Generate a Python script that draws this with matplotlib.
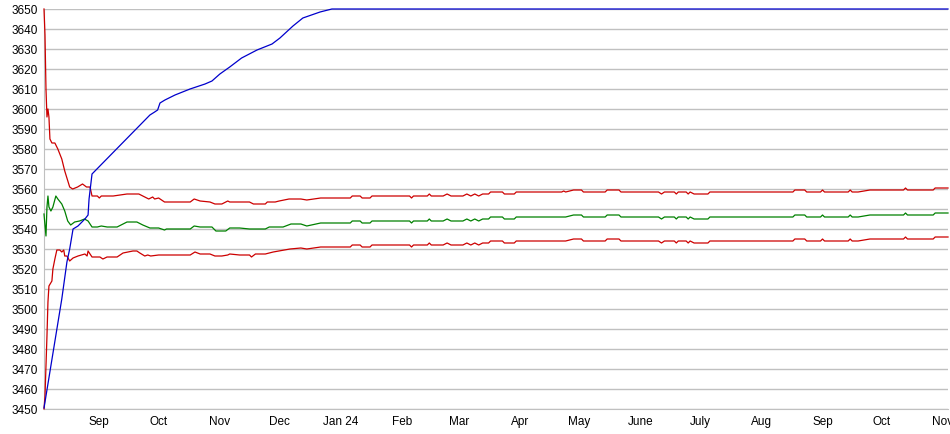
import matplotlib
matplotlib.use("Agg")
import matplotlib.pyplot as plt
import matplotlib.dates as mdates
import numpy as np
from datetime import date

# Day offsets are counted from the first day shown on the chart
start = date(2023, 8, 4)
end_day = 457.5

# Month ticks
tick_dates = ["2023-09-01", "2023-10-01", "2023-11-01", "2023-12-01", "2024-01-01",
              "2024-02-01", "2024-03-01", "2024-04-01", "2024-05-01", "2024-06-01",
              "2024-07-01", "2024-08-01", "2024-09-01", "2024-10-01", "2024-11-01"]
tick_labels = ["Sep", "Oct", "Nov", "Dec", "Jan 24", "Feb", "Mar", "Apr", "May",
               "June", "July", "Aug", "Sep", "Oct", "Nov"]

# Blue line (turns flat at the top)
blue_days = [0, 0.5, 9, 11.6, 13, 14.7, 17.2, 20.7, 22.3, 22.8, 24.3, 53.6, 56, 57.5,
             58.7, 61.2, 66.3, 73.9, 81.5, 85, 89, 94, 100, 107.8, 115.4, 119.4, 126,
             131, 139.7, 145.7, 457.5]
blue_vals = [3450.5, 3453.5, 3505, 3523.5, 3530, 3540, 3541.5, 3545, 3547, 3555, 3567.5,
             3597, 3598.5, 3599.5, 3603, 3604.5, 3607, 3610, 3612.5, 3614, 3617.5, 3621,
             3625.5, 3629.5, 3632.5, 3635.5, 3641.5, 3645.5, 3648.5, 3650, 3650]

# Upper red band
upper_days = [0, 0.5, 1, 1.5, 2, 2.5, 3, 4, 5.5, 7, 9, 10.5, 13, 14.5, 17, 19.5, 21.5,
              23.3, 24.3, 27, 28, 29, 35, 42, 48, 50, 53, 55, 56, 58, 61, 74, 76, 79, 84,
              86.5, 90, 93, 94, 104, 106, 112, 113, 117, 119, 124, 130, 133, 140, 155,
              156, 160, 161, 165, 166, 185, 186, 187, 194, 195, 196, 202, 204, 206, 212,
              214, 216, 218, 220, 222, 225, 226, 232, 233, 238, 239, 262, 263, 264, 268,
              272, 273, 284, 285, 291, 292, 311, 312.5, 314, 319, 320, 321, 325, 326,
              327, 329, 336, 337, 379, 380, 385, 386, 393, 394, 395, 407, 408, 409, 412,
              418, 435, 436, 437, 450, 451, 457.5]
upper_vals = [3650, 3637, 3610, 3596, 3600, 3596, 3585, 3583, 3583, 3580, 3575, 3569,
              3561, 3560, 3561, 3562.5, 3561, 3561, 3556.5, 3556.5, 3555.5, 3556.5,
              3556.5, 3557.5, 3557.5, 3556.5, 3555, 3556, 3555, 3555.5, 3553.5, 3553.5,
              3555, 3554, 3553.5, 3552.5, 3552.5, 3554, 3553.5, 3553.5, 3552.5, 3552.5,
              3553.5, 3553.5, 3554, 3555, 3555, 3554.5, 3555.5, 3555.5, 3556.5, 3556.5,
              3555.5, 3555.5, 3556.5, 3556.5, 3555.5, 3556.5, 3556.5, 3557.5, 3556.5,
              3556.5, 3557.5, 3556.5, 3556.5, 3557.5, 3556.5, 3557.5, 3556.5, 3557.5,
              3557.5, 3558.5, 3558.5, 3557.5, 3557.5, 3558.5, 3558.5, 3559, 3558.5,
              3559.5, 3559.5, 3558.5, 3558.5, 3559.5, 3559.5, 3558.5, 3558.5, 3557.5,
              3558.5, 3558.5, 3557.5, 3558.5, 3558.5, 3557.5, 3558.5, 3557.5, 3557.5,
              3558.5, 3558.5, 3559.5, 3559.5, 3558.5, 3558.5, 3559.5, 3558.5, 3558.5,
              3559.5, 3558.5, 3558.5, 3559.5, 3559.5, 3560.5, 3559.5, 3559.5, 3560.5,
              3560.5]

# Green middle line
green_days = [0, 1, 1.5, 2, 2.5, 3.5, 4.5, 6, 7, 9, 10.5, 12, 13.5, 15.5, 18, 20.5,
              22.3, 24.3, 27, 29, 32, 37, 42, 47, 50, 53.6, 58, 61, 62, 74, 76, 79, 85,
              87, 92, 94, 99, 104, 112, 114, 121, 125, 130, 133, 140, 155, 156, 160, 161,
              165, 166, 185, 186, 187, 194, 195, 196, 202, 204, 206, 212, 214, 216, 218,
              220, 222, 225, 226, 232, 233, 238, 239, 262, 264, 268, 272, 273, 284, 285,
              291, 292, 311, 312.5, 314, 319, 320, 321, 325, 326, 327, 329, 336, 337,
              379, 380, 385, 386, 393, 394, 395, 407, 408, 409, 412, 418, 435, 436, 437,
              450, 451, 457.5]
green_vals = [3547.5, 3536.5, 3551, 3556.5, 3551, 3549, 3551, 3556.5, 3555, 3552.5,
              3549, 3544, 3542, 3543.5, 3544, 3545, 3544, 3541, 3541, 3541.5, 3541, 3541,
              3543.5, 3543.5, 3542, 3540.5, 3540.5, 3539.5, 3540, 3540, 3541.5, 3541,
              3541, 3539, 3539, 3540.5, 3540.5, 3540, 3540, 3541, 3541, 3542.5, 3542.5,
              3541.5, 3543, 3543, 3544, 3544, 3543, 3543, 3544, 3544, 3543, 3544, 3544,
              3545, 3544, 3544, 3545, 3544, 3544, 3545, 3544, 3545, 3544, 3545, 3545,
              3546, 3546, 3545, 3545, 3546, 3546, 3546, 3547, 3547, 3546, 3546, 3547,
              3547, 3546, 3546, 3545, 3546, 3546, 3545, 3546, 3546, 3545, 3546, 3545,
              3545, 3546, 3546, 3547, 3547, 3546, 3546, 3547, 3546, 3546, 3547, 3546,
              3546, 3547, 3547, 3548, 3547, 3547, 3548, 3548]

# Lower red band
lower_days = [0, 0.5, 1, 1.5, 2, 2.5, 4, 4.5, 5.5, 6.5, 8, 9, 10, 10.5, 11.6, 13, 14.7,
              17.2, 20.7, 21.8, 22.3, 24.3, 28.3, 29.8, 31.9, 37, 40, 45, 47, 48.5, 51,
              52.5, 54, 58, 61, 74, 76.4, 79, 84, 86.5, 90, 93, 94, 99, 104, 105, 107,
              112, 116, 124.5, 130, 133, 140, 155, 156, 160, 161, 165, 166, 185, 186,
              187, 194, 195, 196, 202, 204, 206, 212, 214, 216, 218, 220, 222, 225, 226,
              232, 233, 238, 239, 262, 264, 268, 272, 273, 284, 285, 291, 292, 311,
              312.5, 314, 319, 320, 321, 325, 326, 327, 329, 336, 337, 379, 380, 385,
              386, 393, 394, 395, 407, 408, 409, 412, 418, 435, 436, 437, 450, 451, 457.5]
lower_vals = [3450, 3456.5, 3471.5, 3486.5, 3503.5, 3511.5, 3514, 3520, 3525, 3529.5,
              3529.5, 3528.5, 3529.5, 3526.5, 3526.5, 3524, 3525.5, 3526.5, 3527.5,
              3526.5, 3529, 3526, 3526, 3525, 3526, 3526, 3528, 3529, 3529, 3528, 3526.5,
              3527, 3526.5, 3527, 3527, 3527, 3528.5, 3527.5, 3527.5, 3526.5, 3526.5,
              3527, 3527.5, 3527, 3527, 3526, 3527.5, 3527.5, 3528.5, 3530, 3530.5, 3530,
              3531, 3531, 3532, 3532, 3531, 3531, 3532, 3532, 3531, 3532, 3532, 3533,
              3532, 3532, 3533, 3532, 3532, 3533, 3532, 3533, 3532, 3533, 3533, 3534,
              3534, 3533, 3533, 3534, 3534, 3534, 3535, 3535, 3534, 3534, 3535, 3535,
              3534, 3534, 3533, 3534, 3534, 3533, 3534, 3534, 3533, 3534, 3533, 3533,
              3534, 3534, 3535, 3535, 3534, 3534, 3535, 3534, 3534, 3535, 3534, 3534,
              3535, 3535, 3536, 3535, 3535, 3536, 3536]

plt.rcParams['font.family'] = ['Liberation Sans', 'DejaVu Sans']

fig = plt.figure(figsize=(9.5, 4.35), dpi=100)
ax = fig.add_axes([44 / 950, 25 / 435, 904 / 950, 400 / 435])

t0 = mdates.date2num(start)
grid_col = '#c0c0c0'

ax.plot(t0 + np.array(upper_days), upper_vals, color='#cc0000', lw=0.9, clip_on=False, zorder=3)
ax.plot(t0 + np.array(lower_days), lower_vals, color='#cc0000', lw=0.9, clip_on=False, zorder=3)
ax.plot(t0 + np.array(green_days), green_vals, color='#008000', lw=0.9, clip_on=False, zorder=3)
ax.plot(t0 + np.array(blue_days), blue_vals, color='#0000cc', lw=0.9, clip_on=False, zorder=4)

ax.set_xlim(t0, t0 + end_day)
ax.set_ylim(3450, 3650)
ax.set_yticks(np.arange(3450, 3651, 10))
ax.set_xticks([mdates.datestr2num(d) for d in tick_dates])
ax.set_xticklabels(tick_labels)

ax.grid(axis='y', color=grid_col, lw=1)
ax.set_axisbelow(True)
for s in ['top', 'right']:
    ax.spines[s].set_visible(False)
ax.spines['left'].set_color(grid_col)
ax.spines['bottom'].set_color(grid_col)
ax.tick_params(axis='both', length=0, labelsize=8.5, colors='#000000')
ax.tick_params(axis='y', pad=4.5)
ax.tick_params(axis='x', pad=4)

fig.savefig('out.png', dpi=100)
